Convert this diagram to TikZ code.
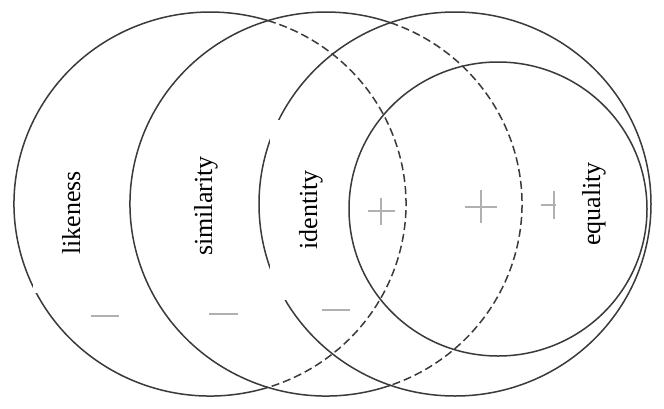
\documentclass[tikz,border=0pt]{standalone}
\usepackage{fontspec}
\setmainfont{Liberation Serif}
\definecolor{ringc}{HTML}{3A3A3A}
\definecolor{signc}{HTML}{B0B0B0}
\begin{document}
\begin{tikzpicture}[x=1pt,y=-1pt,
  ring/.style={draw=ringc,line width=1.5pt},
  ringdash/.style={ring,dash pattern=on 8pt off 4pt},
  sign/.style={draw=signc,line width=1.3pt},
  blank/.style={fill=white,draw=none},
  lab/.style={rotate=90,anchor=base,inner sep=0pt,font=\fontsize{26}{30}\selectfont}]
\useasboundingbox (0,0) rectangle (664,408);
\fill[white] (0,0) rectangle (664,408);
% circles
\coordinate (c1) at (210,204);
\coordinate (c2) at (326,204);
\coordinate (c3) at (455,204);
\coordinate (c4) at (498,209);
\draw[ring] (c1) ++(72.8:196 and 192) arc[start angle=72.8,end angle=287.2,x radius=196,y radius=192];
\draw[ringdash] (c1) ++(-72.8:196 and 192) arc[start angle=-72.8,end angle=72.8,x radius=196,y radius=192];
\draw[ring] (c2) ++(70.8:196 and 192) arc[start angle=70.8,end angle=289.2,x radius=196,y radius=192];
\draw[ringdash] (c2) ++(-70.8:196 and 192) arc[start angle=-70.8,end angle=70.8,x radius=196,y radius=192];
\draw[ring] (c3) ellipse[x radius=196,y radius=192];
\draw[ring] (c4) ellipse[x radius=149,y radius=147];
% signs
\draw[sign] (91,316) -- (119,316);
\draw[sign] (209,314) -- (238,314);
\draw[sign] (322,310) -- (350,310);
\draw[sign] (368,211) -- (395,211) (381,198) -- (381,225);
\draw[sign] (465,207) -- (497,207) (481,190) -- (481,223);
\draw[sign] (541,205) -- (568,205) (554,191) -- (554,219);
% white patches behind labels
\fill[blank] (33,125) rectangle (125,293);
\fill[blank] (270,120) rectangle (345,300);
\fill[blank] (556,140) rectangle (615,275);
% labels
\node[lab] (likeness) at (80,213) {likeness};
\node[lab] (similarity) at (212,206) {similarity};
\node[lab] (identity) at (317,210) {identity};
\node[lab] (equality) at (600,204) {equality};
\end{tikzpicture}
\end{document}
